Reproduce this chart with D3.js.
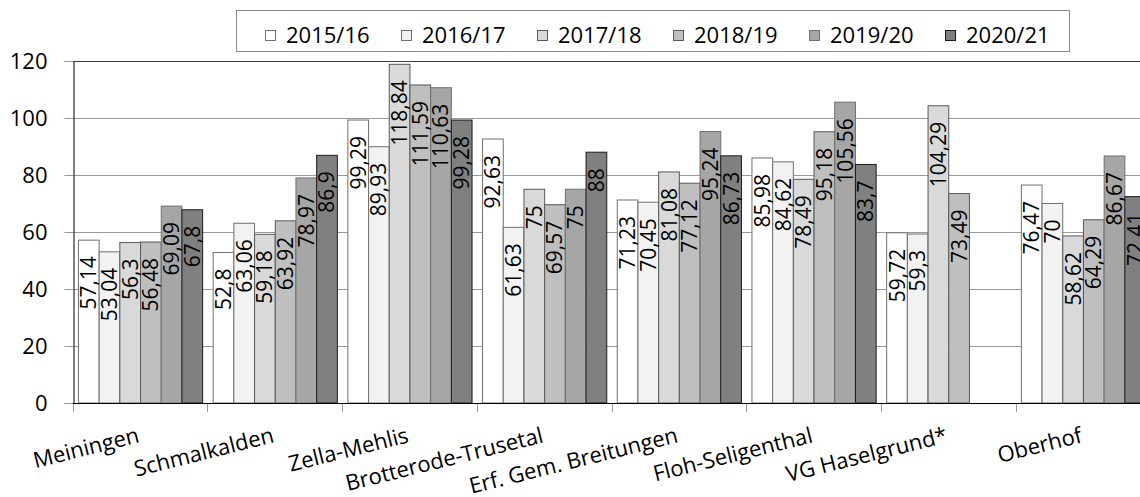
<!DOCTYPE html>
<html><head><meta charset="utf-8">
<script src="https://cdn.jsdelivr.net/npm/d3@7"></script>
<style>
html,body{margin:0;padding:0;background:#fff;}
svg{display:block;font-family:"Open Sans",sans-serif;}
</style></head>
<body>
<svg id="c" width="1140" height="497"></svg>
<script>
const categories = ["Meiningen","Schmalkalden","Zella-Mehlis","Brotterode-Trusetal","Erf. Gem. Breitungen","Floh-Seligenthal","VG Haselgrund*","Oberhof"];
const seriesNames = ["2015/16","2016/17","2017/18","2018/19","2019/20","2020/21"];
const v2015 = [57.14, 52.8, 99.29, 92.63, 71.23, 85.98, 59.72, 76.47];
const v2016 = [53.04, 63.06, 89.93, 61.63, 70.45, 84.62, 59.3, 70];
const v2017 = [56.3, 59.18, 118.84, 75, 81.08, 78.49, 104.29, 58.62];
const v2018 = [56.48, 63.92, 111.59, 69.57, 77.12, 95.18, 73.49, 64.29];
const v2019 = [69.09, 78.97, 110.63, 75, 95.24, 105.56, null, 86.67];
const v2020 = [67.8, 86.9, 99.28, 88, 86.73, 83.7, null, 72.41];
const yTicks = [0, 20, 40, 60, 80, 100, 120];

const seriesValues = [v2015, v2016, v2017, v2018, v2019, v2020];
const fills = ["#ffffff","#f2f2f2","#d9d9d9","#bfbfbf","#a6a6a6","#808080"];
const strokes = ["#707070","#707070","#595959","#595959","#707070","#1a1a1a"];

const svg = d3.select("#c");
const left = 72.7, catW = 134.7;
const x0 = d3.scaleBand().domain(categories).range([left, left + catW * categories.length]).padding(0);
const x1 = d3.scaleBand().domain(d3.range(seriesNames.length)).range([0, x0.bandwidth()]).paddingInner(0).paddingOuter(0.254);
const y = d3.scaleLinear().domain([0, 120]).range([403, 61]);

// gridlines
svg.append("g").selectAll("line").data(yTicks.filter(t => t > 0)).join("line")
  .attr("x1", left).attr("x2", 1140)
  .attr("y1", d => Math.round(y(d)) + 0.5).attr("y2", d => Math.round(y(d)) + 0.5)
  .attr("stroke", d => d === 120 ? "#404040" : "#9a9a9a").attr("stroke-width", 1);

// y axis
const yAxis = svg.append("g").attr("transform", `translate(${Math.round(left)+0.5},0)`)
  .call(d3.axisLeft(y).tickValues(yTicks).tickSize(9).tickPadding(17));
yAxis.select(".domain").attr("stroke", "#000");
yAxis.selectAll(".tick line").attr("stroke", "#9a9a9a");
yAxis.selectAll(".tick text").attr("font-size", 22).attr("fill", "#000").attr("font-family", "Open Sans");

// bars
const data = [];
categories.forEach((c, i) => seriesValues.forEach((arr, s) => {
  if (arr[i] != null) data.push({c, s, v: arr[i]});
}));
const bars = svg.append("g");
bars.selectAll("rect").data(data).join("rect")
  .attr("x", d => x0(d.c) + x1(d.s) + 0.5)
  .attr("y", d => y(d.v))
  .attr("width", x1.bandwidth())
  .attr("height", d => y(0) - y(d.v))
  .attr("fill", d => fills[d.s])
  .attr("stroke", d => strokes[d.s]).attr("stroke-width", 1);

// labels
const fmt = v => String(v).replace(".", ",");
bars.selectAll("text").data(data).join("text")
  .attr("transform", d => `translate(${x0(d.c) + x1(d.s) + x1.bandwidth()/2 + 8},${y(d.v) + 16}) rotate(-90)`)
  .attr("text-anchor", "end")
  .attr("font-size", 21)
  .attr("fill", "#000")
  .text(d => fmt(d.v));

// x axis
const xAxisG = svg.append("g");
xAxisG.append("line").attr("x1", left).attr("x2", 1140).attr("y1", 403.5).attr("y2", 403.5).attr("stroke", "#000");
xAxisG.selectAll("line.tk").data(categories).join("line").attr("class", "tk")
  .attr("x1", d => Math.round(x0(d)) + 0.5).attr("x2", d => Math.round(x0(d)) + 0.5)
  .attr("y1", 404).attr("y2", 412).attr("stroke", "#9a9a9a");
xAxisG.selectAll("text").data(categories).join("text")
  .attr("transform", d => `translate(${x0(d) + x0.bandwidth()/2 - 4},425) rotate(-14)`)
  .attr("text-anchor", "end").attr("dy", "0.8em")
  .attr("font-size", 22).attr("fill", "#000")
  .text(d => d);

// legend
const lg = svg.append("g");
lg.append("rect").attr("x", 236.5).attr("y", 10.5).attr("width", 833).attr("height", 41)
  .attr("fill", "#fff").attr("stroke", "#8c8c8c");
const items = lg.selectAll("g.it").data(seriesNames).join("g").attr("class", "it")
  .attr("transform", (d, i) => `translate(${265 + i * 136},0)`);
items.append("rect").attr("x", 0.5).attr("y", 30.5).attr("width", 10).attr("height", 10)
  .attr("fill", (d, i) => fills[i]).attr("stroke", (d, i) => strokes[i]);
items.append("text").attr("x", 21).attr("y", 43).attr("font-size", 22).attr("fill", "#000").text(d => d);
</script>
</body></html>
